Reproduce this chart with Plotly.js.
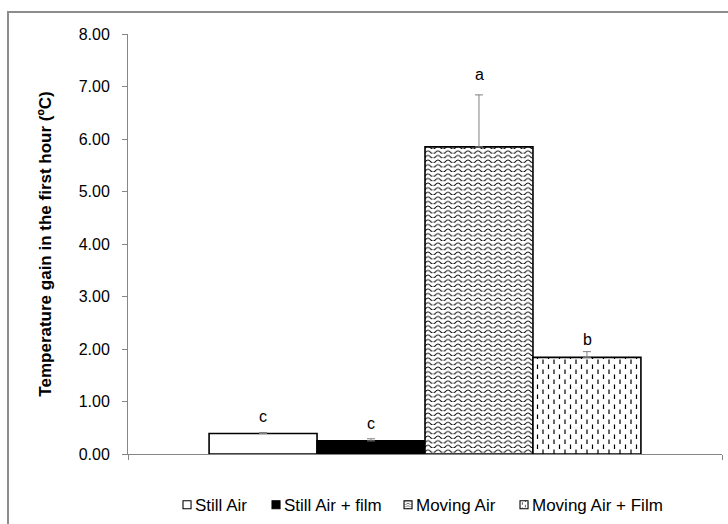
<!DOCTYPE html>
<html>
<head>
<meta charset="utf-8">
<script src="https://cdn.plot.ly/plotly-3.0.1.min.js"></script>
<style>
html,body{margin:0;padding:0;background:#fff;}
#wrap{position:relative;width:728px;height:524px;overflow:hidden;}
#frame{position:absolute;left:7px;top:11px;width:740px;height:540px;border:2px solid #8c8c8c;box-sizing:border-box;pointer-events:none;}
#chart{position:absolute;left:0;top:0;width:728px;height:524px;}
</style>
</head>
<body>
<div id="wrap"><div id="chart"></div><div id="frame"></div></div>
<script>
const categories = ['Still Air', 'Still Air + film', 'Moving Air', 'Moving Air + Film'];
const means = [0.39, 0.25, 5.85, 1.84];
const errPlus = [0.02, 0.04, 0.99, 0.11];
const letters = ['c', 'c', 'a', 'b'];
const yTicks = [0, 1, 2, 3, 4, 5, 6, 7, 8];

const FONT = 'Liberation Sans, Arial, sans-serif';
const fills = [
  {color: '#ffffff', pattern: {shape: ''}},
  {color: '#000000', pattern: {shape: ''}},
  {color: '#ffffff', pattern: {shape: '-', size: 8, solidity: 0.2, fgcolor: '#010101', bgcolor: '#ffffff'}},
  {color: '#ffffff', pattern: {shape: '|', size: 8, solidity: 0.2, fgcolor: '#020202', bgcolor: '#ffffff'}}
];
const shifts = [5, 5, 10, 2];
const legendStarts = [183, 272, 404, 520];

const traces = categories.map((name, i) => ({
  type: 'bar',
  name: name,
  x: [''],
  y: [means[i]],
  marker: {
    color: fills[i].color,
    pattern: fills[i].pattern,
    line: {color: '#000', width: 1.6}
  },
  error_y: {
    type: 'data', symmetric: false,
    array: [errPlus[i]], arrayminus: [0],
    color: '#7f7f7f', thickness: 1, width: 4
  },
  hoverinfo: 'skip'
}));

const annotations = categories.map((name, i) => ({
  x: 0, xref: 'x', y: means[i] + errPlus[i], yref: 'y',
  text: letters[i], showarrow: false,
  xshift: (i - 1.5) * 108,
  yanchor: 'bottom', yshift: shifts[i],
  font: {family: FONT, size: 16, color: '#000'}
}));

const layout = {
  width: 728, height: 524,
  margin: {l: 128, r: 6, t: 34, b: 70, autoexpand: false},
  paper_bgcolor: '#fff', plot_bgcolor: '#fff',
  font: {family: FONT, size: 16, color: '#000'},
  barmode: 'group', bargap: 0.273, bargroupgap: 0,
  showlegend: true,
  legend: {orientation: 'h', xref: 'container', x: 0.02, xanchor: 'left',
           yref: 'container', y: 0.036, yanchor: 'middle',
           font: {family: FONT, size: 17, color: '#000'}, itemwidth: 30, traceorder: 'normal',
           bgcolor: 'rgba(0,0,0,0)'},
  xaxis: {
    type: 'category', showline: true, linecolor: '#868686', linewidth: 1,
    ticks: 'outside', tickson: 'boundaries', ticklen: 5, tickcolor: '#868686',
    showticklabels: false, showgrid: false, zeroline: false, fixedrange: true
  },
  yaxis: {
    range: [0, 8], tickvals: yTicks, tickformat: '.2f',
    showline: true, linecolor: '#868686', linewidth: 1,
    ticks: 'outside', ticklen: 5, tickcolor: '#868686', ticklabelstandoff: 9,
    showgrid: false, zeroline: false,
    tickfont: {family: FONT, size: 16, color: '#000'},
    title: {text: '<b>Temperature gain in the first hour (ºC)</b>', font: {family: FONT, size: 17, color: '#000'}, standoff: 22}
  },
  annotations: annotations
};

const NS = 'http://www.w3.org/2000/svg';
function restylePattern(pat, w, h, d, sw) {
  while (pat.firstChild) pat.removeChild(pat.firstChild);
  pat.setAttribute('width', w);
  pat.setAttribute('height', h);
  pat.setAttribute('patternUnits', 'userSpaceOnUse');
  const r = document.createElementNS(NS, 'rect');
  r.setAttribute('width', w); r.setAttribute('height', h);
  r.setAttribute('fill', '#ffffff');
  pat.appendChild(r);
  const p = document.createElementNS(NS, 'path');
  p.setAttribute('d', d);
  p.setAttribute('fill', 'none');
  p.setAttribute('stroke', '#000');
  p.setAttribute('stroke-width', sw);
  pat.appendChild(p);
}

function compactLegend() {
  const items = Array.from(document.querySelectorAll('#chart .legend .traces'));
  if (!items.length) return;
  const parent = items[0].parentNode;
  const ctm = parent.getScreenCTM();
  const off = ctm ? ctm.e : 0;
  const s = 0.67, sym = 8, gapText = 4;
  items.forEach((item, i) => {
    const tr = item.getAttribute('transform') || '';
    const m = tr.match(/translate\(\s*([-\d.]+)[ ,]+([-\d.]+)/);
    const ty = m ? parseFloat(m[2]) : 0;
    const lp = item.querySelector('.legendpoints');
    if (lp) {
      const bb = lp.getBBox();
      const cy = bb.y + bb.height / 2;
      lp.setAttribute('transform', `translate(${-s * bb.x},${cy - s * cy}) scale(${s})`);
    }
    const txt = item.querySelector('text.legendtext');
    if (txt) {
      txt.setAttribute('x', sym + gapText);
      txt.querySelectorAll('tspan').forEach(t => { if (t.hasAttribute('x')) t.setAttribute('x', sym + gapText); });
    }
    item.setAttribute('transform', `translate(${legendStarts[i] - off},${ty})`);
  });
  document.querySelectorAll('#chart .legend [clip-path]').forEach(el => el.removeAttribute('clip-path'));
}

Plotly.newPlot('chart', traces, layout, {staticPlot: true}).then(() => {
  document.querySelectorAll('#chart pattern').forEach(pat => {
    const html = pat.outerHTML.toLowerCase();
    if (html.includes('rgb(1, 1, 1)') || html.includes('#010101')) {
      restylePattern(pat, 10, 4.6, 'M-2.5,3.3 Q0,0.3 2.5,3.3 T7.5,3.3 T12.5,3.3', 1);
    } else if (html.includes('rgb(2, 2, 2)') || html.includes('#020202')) {
      restylePattern(pat, 11, 10, 'M2.5,0.5V5M8,5.5V10', 1.2);
    }
  });
  compactLegend();
});
</script>
</body>
</html>
